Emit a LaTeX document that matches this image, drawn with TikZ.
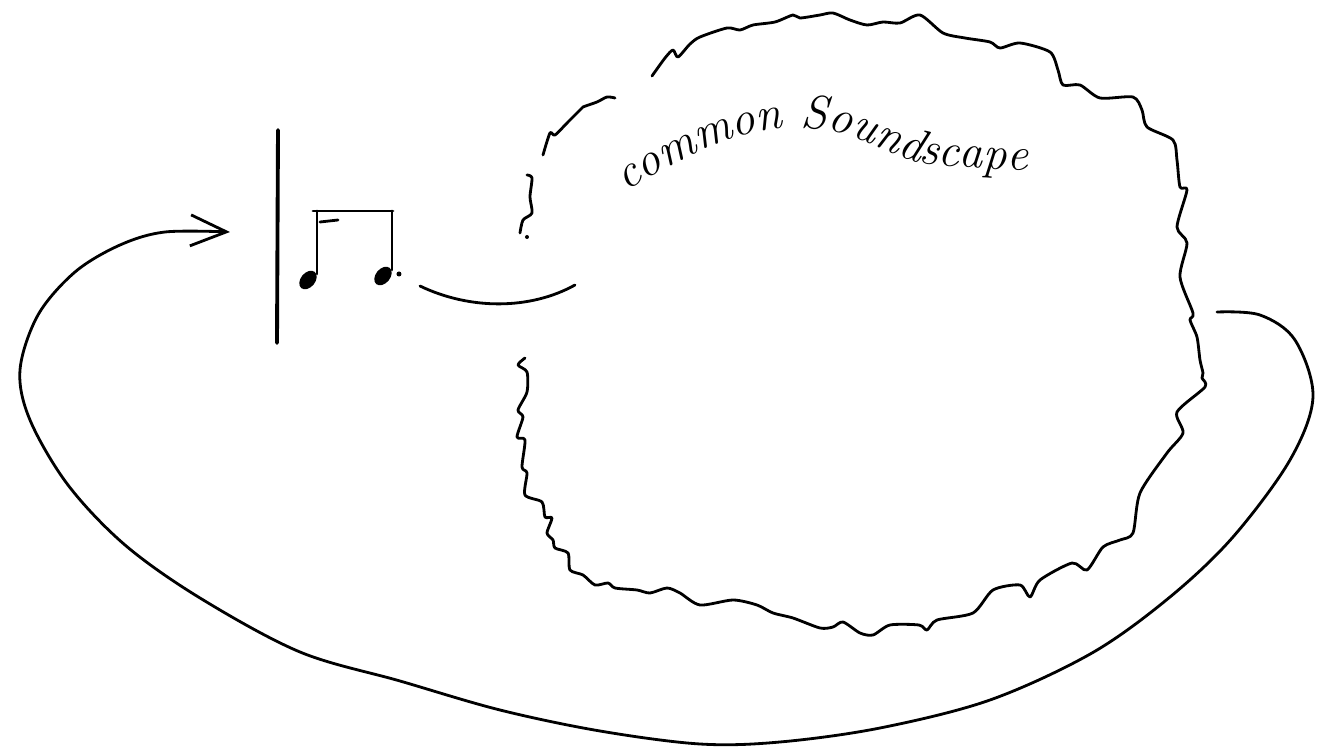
\documentclass[tikz,border=0pt]{standalone}
\usepackage{tikz}
\usetikzlibrary{arrows.meta,decorations.text}

\begin{document}
\begin{tikzpicture}[x=0.1mm,y=-0.1mm,
    pen/.style={line width=0.8pt,line cap=round,line join=round},
    fuzz/.style={pen,smooth,tension=0.45}]
  \useasboundingbox (0,0) rectangle (1328,747);
  % named points for the connectors
  \coordinate (bartop) at (278,130);
  \coordinate (barbot) at (277,343);
  \coordinate (notesout) at (420,286);
  \coordinate (cloudin) at (575,285);
  \coordinate (loopin) at (1217,312);
  \coordinate (tip) at (230,232);

  % the cloud (soundscape), drawn in three pieces
  \draw[fuzz] plot coordinates {(652,76) (665,58) (673,50) (678,57) (690,44)
    (700,37) (727,28) (740,30) (753,25) (775,22) (793,15) (800,18) (820,15)
    (833,13) (850,20) (867,25) (883,22) (900,23) (920,15) (943,33) (965,38)
    (990,42) (1000,48) (1020,43) (1050,52) (1058,70) (1063,85) (1080,85)
    (1100,98) (1133,97) (1142,110) (1147,127) (1173,140) (1177,160) (1180,187)
    (1187,190) (1177,227) (1187,243) (1180,277) (1193,313) (1190,320)
    (1197,337) (1200,360) (1203,373) (1202,378) (1205,387) (1177,412)
    (1183,433) (1167,453) (1140,493) (1133,533) (1120,540) (1103,547)
    (1087,570) (1072,563) (1040,580) (1030,597) (1020,585) (993,590)
    (973,613) (937,620) (927,630) (919,625) (890,625) (873,635) (860,633)
    (843,622) (833,627) (820,628) (793,618) (773,613) (757,605) (733,600)
    (700,605) (680,593) (667,588) (650,593) (637,590) (615,588) (608,583)
    (595,585) (583,575) (570,570) (568,553) (555,548) (553,540) (547,533)
    (552,518) (545,517) (542,502) (525,495) (527,473) (522,467) (525,440)
    (517,437) (523,417) (518,410) (527,392) (527,372) (518,365) (525,358)};
  \draw[fuzz] plot coordinates {(543,155) (550,133) (555,135) (568,122)
    (580,110) (583,107) (597,102) (607,97) (615,98)};
  \draw[fuzz] plot coordinates {(527,175) (532,178) (530,197) (532,213)
    (523,220) (520,233)};
  \fill (527,237) circle (0.2mm);

  % label along the top of the cloud
  \path[decorate,decoration={text along path,text format delimiters={|}{|},
      text={|\fontsize{13.5}{16}\selectfont\itshape|common Soundscape}}]
    (627,192) .. controls (690,150) and (750,125) .. (812,128)
    .. controls (865,132) and (890,160) .. (935,165)
    .. controls (980,168) and (1020,171) .. (1065,172);

  % barline and the two notes
  \draw[pen,line width=1.1pt] (bartop) -- (barbot);
  \draw[pen] (313,211) -- (393,211);
  \draw[pen] (320,222) -- (338,220);
  \draw[pen] (317,211) -- (317,274);
  \draw[pen] (392,211) -- (392,270);
  \fill[rotate around={50:(308,280)}] (308,280) ellipse [x radius=1.05mm,y radius=0.72mm];
  \fill[rotate around={50:(383,276)}] (383,276) ellipse [x radius=1.05mm,y radius=0.72mm];
  \fill (399,274) circle (0.25mm);

  % from the notes into the cloud
  \draw[pen] (notesout) .. controls (470,310) and (530,310) .. (cloudin);

  % the long way back round to the barline
  \draw[pen,-{Straight Barb[length=3.6mm,width=3.1mm]}] plot[smooth,tension=0.55]
    coordinates {(loopin) (1260,315) (1295,340) (1313,397) (1290,460)
    (1233,537) (1170,597) (1092,653) (990,700) (880,728) (780,742)
    (700,744) (600,731) (500,710) (400,681) (300,652) (200,598) (125,545)
    (68,485) (30,420) (20,370) (38,315) (75,272) (120,245) (165,232) (tip)};
\end{tikzpicture}
\end{document}
